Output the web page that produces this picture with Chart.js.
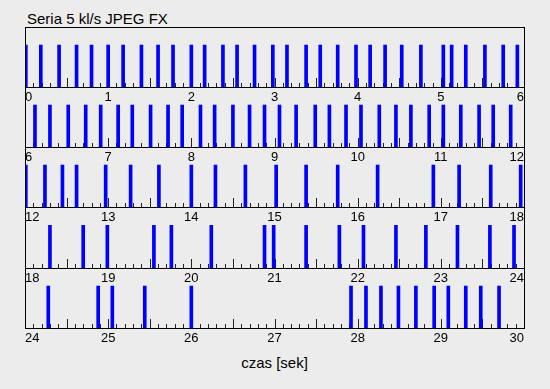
<!DOCTYPE html>
<html>
<head>
<meta charset="utf-8">
<script src="https://cdn.jsdelivr.net/npm/chart.js@4/dist/chart.umd.min.js"></script>
<style>
  html, body { margin: 0; padding: 0; background: #ececec; }
  #wrap { position: relative; width: 550px; height: 389px; background: #ececec; overflow: hidden;
          font-family: "Liberation Sans", Arial, sans-serif; color: #000; }
  canvas { position: absolute; left: 0; }
  .txt { position: absolute; font-size: 15px; line-height: 15px; white-space: nowrap; }
</style>
</head>
<body>
<div id="wrap">
  <div class="txt" style="left:27px; top:11px;">Seria 5 kl/s JPEG FX</div>
  <div class="txt" style="left:0; width:549px; text-align:center; top:355px;">czas [sek]</div>
</div>
<script>
// Frame timestamps (seconds), one array per 6-second row
const row1Times = [0.01, 0.19, 0.41, 0.62, 0.80, 1.00, 1.18, 1.40, 1.60, 1.78, 2.00, 2.16, 2.38, 2.55, 2.76, 2.98,
                   3.15, 3.38, 3.55, 3.76, 3.98, 4.15, 4.33, 4.53, 4.76, 5.03, 5.13, 5.30, 5.53, 5.75, 5.92];
const row2Times = [6.12, 6.30, 6.52, 6.73, 6.91, 7.12, 7.29, 7.51, 7.72, 7.89, 8.11, 8.28, 8.50, 8.70, 8.88,
                   9.06, 9.26, 9.49, 9.66, 9.86, 10.04, 10.26, 10.46, 10.64, 10.86, 11.03, 11.24, 11.46, 11.63, 11.84];
const row3Times = [12.01, 12.24, 12.45, 12.62, 12.97, 13.27, 13.61, 14.00, 14.29, 14.65,
                   15.02, 15.38, 15.76, 16.24, 16.91, 17.22, 17.60, 17.96];
const row4Times = [18.30, 18.70, 18.99, 19.55, 19.76, 20.24, 20.88, 20.99,
                   21.38, 21.78, 22.07, 22.46, 22.82, 23.20, 23.59, 23.88];
const row5Times = [24.28, 24.88, 25.05, 25.44, 26.00,
                   27.92, 28.10, 28.28, 28.49, 28.70, 28.92, 29.09, 29.30, 29.48, 29.70];
const rowSeries = [row1Times, row2Times, row3Times, row4Times, row5Times];
const rowStarts = [0, 6, 12, 18, 24];
const rowSpan = 6;
const barValue = 1;

// layout (pixels)
const rowTops = [27, 87, 147, 207, 268];
const rowBottoms = [87, 147, 207, 268, 328];
const labelArea = 30;

const framePlugin = {
  id: 'frameTicks',
  beforeDatasetsDraw(chart) {
    const ctx = chart.ctx, x = chart.scales.x, a = chart.chartArea;
    ctx.save();
    ctx.strokeStyle = '#222';
    ctx.lineWidth = 1;
    const n = Math.round((x.max - x.min) * 10);
    for (let k = 0; k <= n; k++) {
      const v = x.min + k / 10;
      const px = Math.round(x.getPixelForValue(v)) + 0.5;
      const len = (k % 5 === 0) ? 9 : 4;
      ctx.beginPath();
      ctx.moveTo(px, a.bottom);
      ctx.lineTo(px, a.bottom - len);
      ctx.stroke();
    }
    ctx.restore();
  },
  afterDraw(chart) {
    const ctx = chart.ctx, a = chart.chartArea;
    ctx.save();
    ctx.strokeStyle = '#000';
    ctx.lineWidth = 1;
    ctx.strokeRect(a.left + 0.5, a.top + 0.5, a.right - a.left, a.bottom - a.top);
    ctx.restore();
  }
};

const wrap = document.getElementById('wrap');
rowSeries.forEach((times, i) => {
  const h = rowBottoms[i] - rowTops[i];
  const cv = document.createElement('canvas');
  cv.width = 550; cv.height = h + labelArea;
  cv.style.top = rowTops[i] + 'px';
  cv.style.width = '550px'; cv.style.height = (h + labelArea) + 'px';
  wrap.appendChild(cv);
  new Chart(cv, {
    type: 'bar',
    data: {
      datasets: [{
        data: times.map(t => ({ x: t, y: barValue })),
        backgroundColor: '#0000ff',
        borderWidth: 0,
        barThickness: 3
      }]
    },
    options: {
      responsive: false,
      animation: false,
      devicePixelRatio: 1,
      layout: { padding: { left: 25, right: 26, top: 0, bottom: 0 } },
      plugins: { legend: { display: false }, tooltip: { enabled: false }, title: { display: false } },
      scales: {
        x: {
          type: 'linear',
          min: rowStarts[i],
          max: rowStarts[i] + rowSpan,
          offset: false,
          grid: { display: false, drawTicks: false, offset: false },
          border: { display: false },
          ticks: {
            stepSize: 1,
            autoSkip: false,
            maxRotation: 0,
            align: 'inner',
            padding: 3,
            color: '#000',
            font: { family: '"Liberation Sans", Arial, sans-serif', size: 13 }
          },
          afterFit(scale) { scale.height = labelArea; }
        },
        y: { display: false, min: 0, max: 1.43 }
      }
    },
    plugins: [framePlugin]
  });
});
</script>
</body>
</html>
